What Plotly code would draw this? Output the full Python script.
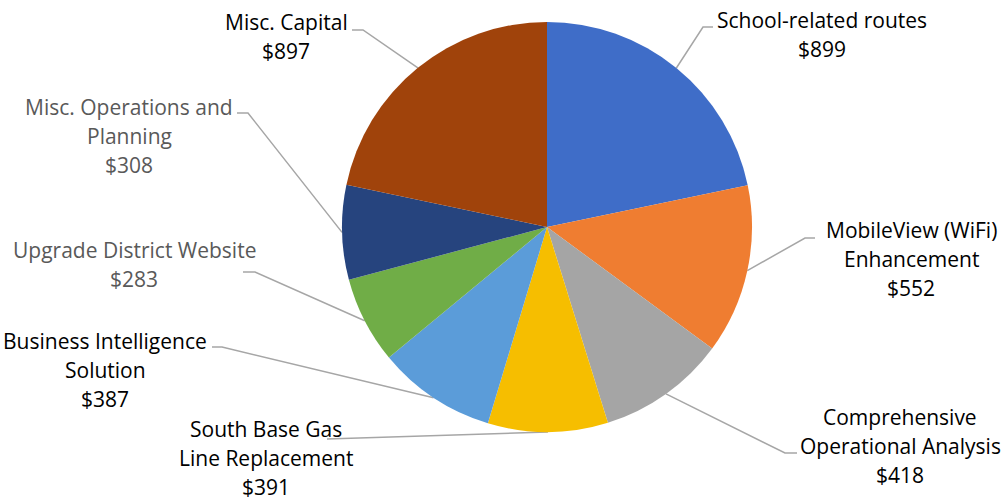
import math
import plotly.graph_objects as go

# ---- data ----
categories = ["School-related routes", "MobileView (WiFi) Enhancement",
              "Comprehensive Operational Analysis", "South Base Gas Line Replacement",
              "Business Intelligence Solution", "Upgrade District Website",
              "Misc. Operations and Planning", "Misc. Capital"]
values = [899, 552, 418, 391, 387, 283, 308, 897]
label_lines = [
    ["School-related routes", "$899"],
    ["MobileView (WiFi)", "Enhancement", "$552"],
    ["Comprehensive", "Operational Analysis", "$418"],
    ["South Base Gas", "Line Replacement", "$391"],
    ["Business Intelligence", "Solution", "$387"],
    ["Upgrade District Website", "$283"],
    ["Misc. Operations and", "Planning", "$308"],
    ["Misc. Capital", "$897"],
]

# ---- styles / layout ----
colors = ["#3F6DC8", "#EF7D31", "#A5A5A5", "#F6BE00", "#5B9CD9", "#70AD47", "#26447E", "#A0430B"]
text_colors = ["#000000", "#000000", "#000000", "#000000", "#000000", "#595959", "#595959", "#000000"]
W, H = 1004, 500
CX, CY, R = 547, 227, 205
# label placement: (center x, first line y), leader bend point, leader end point
label_pos = [(822, 20), (911, 230), (900, 417), (266, 429), (105, 341), (134, 250), (129, 107), (286, 22)]
bend_pts = [(703, 27), (805, 238), (785, 453), (340, 438), (222, 347), (255, 272), (248, 113), (363, 30)]
end_pts = [(713, 27), (815, 238), (797, 453), (327, 439), (212, 347), (243, 272), (237, 113), (352, 30)]
LINE_H = 29
FONT = "Open Sans"
FONT_SIZE = 21

fig = go.Figure()

# leader lines (start at each slice's mid-angle on the pie edge)
total = sum(values)
cum = 0
for i, v in enumerate(values):
    mid = (cum + v / 2) / total * 2 * math.pi
    cum += v
    ex = CX + R * math.sin(mid)
    ey = CY - R * math.cos(mid)
    fig.add_trace(go.Scatter(
        x=[ex, bend_pts[i][0], end_pts[i][0]],
        y=[ey, bend_pts[i][1], end_pts[i][1]],
        mode="lines", line=dict(color="#A6A6A6", width=1.5),
        hoverinfo="skip", showlegend=False))

fig.add_trace(go.Pie(
    labels=categories, values=values, sort=False, direction="clockwise", rotation=0,
    marker=dict(colors=colors, line=dict(width=0)),
    textinfo="none", showlegend=False,
    domain=dict(x=[(CX - R) / W, (CX + R) / W], y=[1 - (CY + R) / H, 1 - (CY - R) / H]),
))

for i, lines in enumerate(label_lines):
    lx, ly = label_pos[i]
    for j, t in enumerate(lines):
        fig.add_annotation(x=lx, y=ly + j * LINE_H, text=t, showarrow=False,
                           xanchor="center", yanchor="middle",
                           font=dict(family=FONT, size=FONT_SIZE, color=text_colors[i]))

fig.update_layout(
    width=W, height=H, margin=dict(l=0, r=0, t=0, b=0),
    paper_bgcolor="white", plot_bgcolor="white",
    xaxis=dict(range=[0, W], visible=False, fixedrange=True),
    yaxis=dict(range=[H, 0], visible=False, fixedrange=True),
)
fig.write_html("out.html", config={"displayModeBar": False},
               post_script="document.body.style.margin='0';document.body.style.overflow='hidden';")
